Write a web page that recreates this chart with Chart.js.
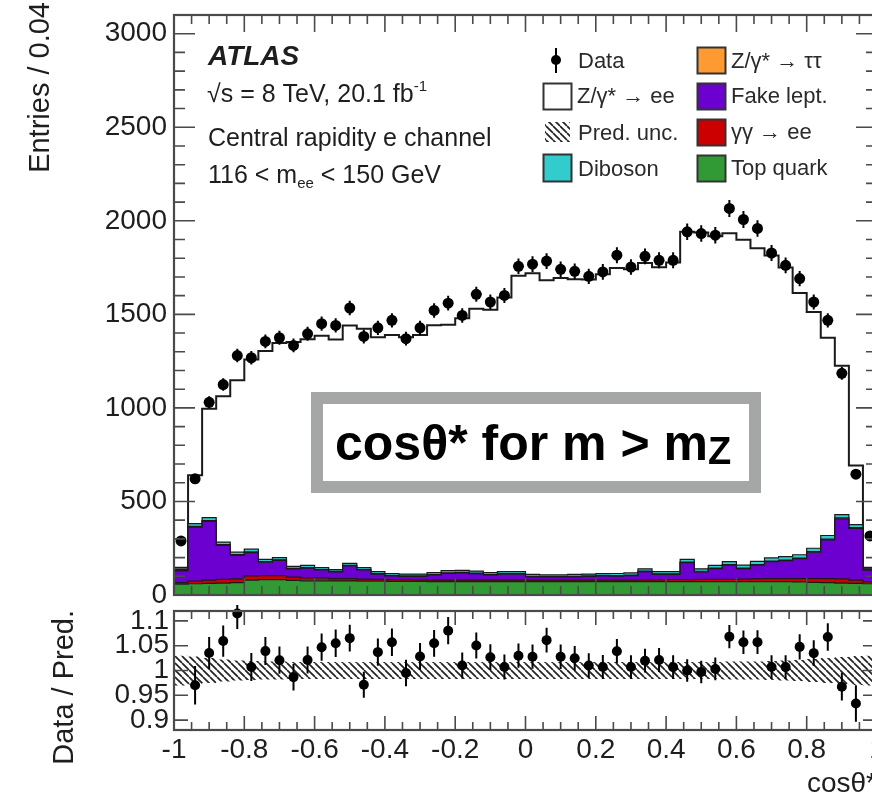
<!DOCTYPE html>
<html>
<head>
<meta charset="utf-8">
<title>cos theta* distribution, central e channel</title>
<script src="https://cdn.jsdelivr.net/npm/chart.js@4.4.1/dist/chart.umd.min.js"></script>
<style>
  html, body { margin: 0; padding: 0; background: #fff; overflow: hidden; }
  #wrap { position: relative; width: 872px; height: 797px; overflow: hidden; }
  canvas { position: absolute; left: 0; }
  #mainCanvas { top: 0; }
  #ratioCanvas { top: 600px; }
</style>
</head>
<body>
<div id="wrap">
  <canvas id="mainCanvas" width="880" height="612"></canvas>
  <canvas id="ratioCanvas" width="880" height="197"></canvas>
</div>
<script>
const FONT = "'Liberation Sans', Arial, Helvetica, sans-serif";
const INK = '#1e1e1e';
const FRAME = '#4a4a4a';

// 50 bins of 0.04 in cos(theta*)
const binLow = -1;
const binWidth = 0.04;
const nBins = 50;

const dataCounts = [
  289, 621, 1030, 1125, 1280, 1268, 1355, 1375, 1334, 1396,
  1450, 1441, 1534, 1382, 1428, 1468, 1370, 1428, 1521, 1560,
  1494, 1607, 1566, 1601, 1757, 1768, 1785, 1741, 1730, 1703,
  1727, 1816, 1753, 1810, 1789, 1789, 1941, 1932, 1923, 2066,
  2007, 1959, 1828, 1762, 1691, 1566, 1468, 1185, 646, 316
];
const zeeCounts = [
  10, 259, 581, 779, 919, 1014, 1114, 1147, 1199, 1209,
  1238, 1230, 1271, 1276, 1252, 1274, 1265, 1277, 1322, 1314,
  1347, 1402, 1405, 1465, 1581, 1610, 1574, 1586, 1578, 1574,
  1600, 1633, 1623, 1635, 1627, 1652, 1751, 1798, 1759, 1756,
  1739, 1673, 1617, 1545, 1399, 1263, 1057, 795, 316, 5
];
const dibosonCounts = [
  6, 14, 16, 14, 13, 14, 12, 12, 11, 11,
  10, 10, 11, 10, 10, 10, 10, 10, 11, 11,
  11, 11, 11, 11, 11, 10, 10, 10, 10, 10,
  10, 11, 11, 12, 12, 12, 14, 13, 14, 15,
  16, 17, 17, 18, 18, 18, 19, 18, 16, 6
];
const ztautauCounts = [
  1, 4, 5, 4, 4, 4, 3, 3, 3, 3,
  3, 3, 3, 3, 3, 3, 3, 3, 3, 3,
  3, 3, 3, 3, 3, 3, 3, 3, 3, 3,
  3, 3, 3, 3, 3, 3, 3, 3, 3, 3,
  3, 3, 3, 3, 3, 3, 4, 5, 4, 1
];
const fakeCounts = [
  63, 289, 313, 181, 126, 125, 71, 81, 43, 52,
  44, 36, 68, 49, 28, 20, 17, 18, 26, 36,
  38, 34, 26, 31, 31, 17, 15, 15, 17, 19,
  22, 21, 24, 44, 29, 28, 91, 41, 57, 76,
  56, 74, 91, 96, 106, 141, 207, 321, 276, 63
];
const photonCounts = [
  8, 14, 18, 20, 20, 22, 22, 22, 18, 16,
  14, 12, 12, 11, 10, 9, 9, 8, 8, 8,
  8, 8, 8, 8, 8, 8, 8, 8, 8, 8,
  8, 8, 8, 9, 9, 10, 10, 11, 12, 12,
  13, 14, 15, 16, 18, 20, 22, 22, 18, 10
];
const topCounts = [
  58, 60, 62, 64, 66, 80, 82, 82, 78, 76,
  76, 75, 75, 74, 74, 73, 73, 73, 72, 72,
  72, 72, 72, 72, 72, 72, 72, 72, 72, 72,
  72, 72, 72, 72, 72, 72, 72, 72, 72, 72,
  72, 72, 72, 72, 70, 68, 66, 64, 62, 60
];
// relative systematic uncertainty on the prediction
const predUncRel = [
  0.030, 0.028, 0.025, 0.022, 0.020, 0.019, 0.018, 0.018, 0.017, 0.017,
  0.017, 0.017, 0.017, 0.017, 0.017, 0.017, 0.017, 0.017, 0.017, 0.017,
  0.017, 0.017, 0.017, 0.017, 0.017, 0.017, 0.017, 0.017, 0.017, 0.017,
  0.017, 0.017, 0.017, 0.017, 0.017, 0.017, 0.017, 0.017, 0.017, 0.018,
  0.018, 0.018, 0.019, 0.020, 0.021, 0.023, 0.025, 0.027, 0.029, 0.030
];

const xTickValues = [-1, -0.8, -0.6, -0.4, -0.2, 0, 0.2, 0.4, 0.6, 0.8, 1];
const xTickLabels = ['-1', '-0.8', '-0.6', '-0.4', '-0.2', '0', '0.2', '0.4', '0.6', '0.8', '1'];
const yTickValues = [0, 500, 1000, 1500, 2000, 2500, 3000];
const yTickLabels = ['0', '500', '1000', '1500', '2000', '2500', '3000'];
const ratioTickValues = [0.9, 0.95, 1, 1.05, 1.1];
const ratioTickLabels = ['0.9', '0.95', '1', '1.05', '1.1'];

const edges = Array.from({ length: nBins + 1 }, (_, i) => binLow + i * binWidth);
const centers = edges.slice(0, nBins).map(e => e + binWidth / 2);

// histogram as a step line: value i holds from edge i to edge i+1
function stepPoints(values) {
  const pts = values.map((v, i) => ({ x: edges[i], y: v }));
  pts.push({ x: edges[nBins], y: values[nBins - 1] });
  return pts;
}

function labelFor(values, labels, v) {
  const i = values.findIndex(t => Math.abs(t - v) < 1e-9);
  return i < 0 ? '' : labels[i];
}

// stack from the bottom up
const layers = [
  { name: 'Top quark', counts: topCounts, color: '#329a35' },
  { name: 'γγ → ee', counts: photonCounts, color: '#cc0000' },
  { name: 'Fake lept.', counts: fakeCounts, color: '#6b00d0' },
  { name: 'Z/γ* → ττ', counts: ztautauCounts, color: '#ff9a33' },
  { name: 'Diboson', counts: dibosonCounts, color: '#33cccc' },
  { name: 'Z/γ* → ee', counts: zeeCounts, color: '#ffffff' }
];
const cumulative = [];
layers.forEach((l, k) => {
  cumulative.push(l.counts.map((c, i) => c + (k ? cumulative[k - 1][i] : 0)));
});
const predTotal = cumulative[layers.length - 1];
const ratioVals = dataCounts.map((d, i) => d / predTotal[i]);

function makeHatch(ctx) {
  const c = document.createElement('canvas');
  c.width = 7; c.height = 7;
  const g = c.getContext('2d');
  g.strokeStyle = '#222';
  g.lineWidth = 1.7;
  for (const k of [-7, 0, 7]) {
    g.beginPath(); g.moveTo(k, 0); g.lineTo(k + 7, 7); g.stroke();
  }
  return ctx.createPattern(c, 'repeat');
}

// ROOT-like frame with ticks pointing inwards on all four sides
function drawFrame(chart, cfg) {
  const { ctx, chartArea: a, scales: { x, y } } = chart;
  ctx.save();
  ctx.strokeStyle = FRAME;
  ctx.lineWidth = 1.6;
  ctx.beginPath();
  for (let k = 0; k <= 40; k++) {
    const px = x.getPixelForValue(-1 + k * 0.05);
    const len = k % 4 === 0 ? cfg.xMajor : cfg.xMinor;
    ctx.moveTo(px, a.bottom); ctx.lineTo(px, a.bottom - len);
    ctx.moveTo(px, a.top); ctx.lineTo(px, a.top + len);
  }
  cfg.yTicks.forEach(t => {
    const py = y.getPixelForValue(t.v);
    ctx.moveTo(a.left, py); ctx.lineTo(a.left + t.len, py);
    ctx.moveTo(a.right, py); ctx.lineTo(a.right - t.len, py);
  });
  ctx.stroke();
  ctx.lineWidth = 2.2;
  ctx.strokeRect(a.left, a.top, a.right - a.left, a.bottom - a.top);
  ctx.restore();
}

function drawErrorBars(chart, vals, errs) {
  const { ctx, chartArea: a, scales: { x, y } } = chart;
  ctx.save();
  ctx.beginPath();
  ctx.rect(a.left, a.top - 6, a.right - a.left, a.bottom - a.top + 6);
  ctx.clip();
  ctx.strokeStyle = '#000';
  ctx.lineWidth = 2;
  ctx.beginPath();
  vals.forEach((v, i) => {
    const px = x.getPixelForValue(centers[i]);
    ctx.moveTo(px, y.getPixelForValue(v - errs[i]));
    ctx.lineTo(px, y.getPixelForValue(v + errs[i]));
  });
  ctx.stroke();
  ctx.restore();
}

function textRuns(ctx, x, y, parts) {
  for (const p of parts) {
    ctx.font = `${p.font || ''} ${p.size}px ${FONT}`;
    ctx.fillText(p.t, x, y + (p.dy || 0));
    x += ctx.measureText(p.t).width;
  }
}

function verticalTitle(ctx, text, x, yTop, size) {
  ctx.save();
  ctx.translate(x, yTop);
  ctx.rotate(-Math.PI / 2);
  ctx.font = `${size}px ${FONT}`;
  ctx.fillStyle = INK;
  ctx.textAlign = 'right';
  ctx.textBaseline = 'middle';
  ctx.fillText(text, 0, 0);
  ctx.restore();
}

function legendBox(ctx, x, y, w, h, fill) {
  ctx.fillStyle = fill;
  ctx.fillRect(x, y, w, h);
  ctx.strokeStyle = '#333';
  ctx.lineWidth = 2;
  ctx.strokeRect(x, y, w, h);
}

Chart.defaults.font.family = FONT;
Chart.defaults.color = INK;

const mainCtx = document.getElementById('mainCanvas').getContext('2d');
const ratioCtx = document.getElementById('ratioCanvas').getContext('2d');
const hatch = makeHatch(ratioCtx);
const legendHatch = makeHatch(mainCtx);

const mainPlugin = {
  id: 'mainDecor',
  afterDatasetsDraw(chart) {
    drawErrorBars(chart, dataCounts, dataCounts.map(d => Math.sqrt(d)));
    const yTicks = [];
    for (let k = 0; k <= 31; k++) yTicks.push({ v: k * 100, len: k % 5 === 0 ? 21 : 11 });
    drawFrame(chart, { xMajor: 17, xMinor: 9, yTicks });
  },
  afterDraw(chart) {
    const ctx = chart.ctx;
    ctx.save();
    ctx.fillStyle = INK;
    ctx.textAlign = 'left';
    ctx.textBaseline = 'alphabetic';
    textRuns(ctx, 208, 65, [{ t: 'ATLAS', size: 28, font: 'italic bold' }]);
    textRuns(ctx, 207, 102, [{ t: '√s = 8 TeV, 20.1 fb', size: 25 }, { t: '-1', size: 15, dy: -11 }]);
    textRuns(ctx, 208, 146, [{ t: 'Central rapidity e channel', size: 25 }]);
    textRuns(ctx, 208, 183, [{ t: '116 < m', size: 25 }, { t: 'ee', size: 15, dy: 5 }, { t: ' < 150 GeV', size: 25 }]);

    // legend, left column
    ctx.fillStyle = '#000';
    ctx.beginPath(); ctx.arc(556, 60, 5, 0, Math.PI * 2); ctx.fill();
    ctx.lineWidth = 2; ctx.strokeStyle = '#000';
    ctx.beginPath(); ctx.moveTo(556, 48); ctx.lineTo(556, 73); ctx.stroke();
    legendBox(ctx, 543.5, 83.5, 28, 26, '#ffffff');
    ctx.fillStyle = legendHatch; ctx.fillRect(545, 122, 25, 20);
    legendBox(ctx, 543.5, 154.5, 28, 27, layers[4].color);
    // legend, right column
    legendBox(ctx, 697.5, 47.5, 28, 26, layers[3].color);
    legendBox(ctx, 697.5, 83.5, 28, 26, layers[2].color);
    legendBox(ctx, 697.5, 119.5, 28, 26, layers[1].color);
    legendBox(ctx, 697.5, 155.5, 28, 26, layers[0].color);
    ctx.fillStyle = '#2a2a2a';
    ctx.font = `22px ${FONT}`;
    ctx.fillText('Data', 578, 68);
    ctx.fillText('Z/γ* → ee', 577, 103);
    ctx.fillText('Pred. unc.', 578, 140);
    ctx.fillText('Diboson', 578, 176);
    ctx.fillText('Z/γ* → ττ', 731, 68);
    ctx.fillText('Fake lept.', 731, 103);
    ctx.fillText('γγ → ee', 731, 139);
    ctx.fillText('Top quark', 731, 175);

    // boxed caption
    ctx.fillStyle = '#ffffff';
    ctx.fillRect(317, 398, 438, 89);
    ctx.strokeStyle = '#a4a7a5';
    ctx.lineWidth = 12;
    ctx.strokeRect(317, 398, 438, 89);
    ctx.fillStyle = '#000';
    textRuns(ctx, 335, 460, [{ t: 'cosθ* for m > m', size: 50, font: 'bold' }, { t: 'Z', size: 38, font: 'bold', dy: 4 }]);

    verticalTitle(ctx, 'Entries / 0.04', 41, 2, 29);
    ctx.restore();
  }
};

const ratioPlugin = {
  id: 'ratioDecor',
  afterDatasetsDraw(chart) {
    drawErrorBars(chart, ratioVals, ratioVals.map((r, i) => r / Math.sqrt(dataCounts[i])));
    drawFrame(chart, { xMajor: 14, xMinor: 8, yTicks: ratioTickValues.map(v => ({ v, len: 14 })) });
  },
  afterDraw(chart) {
    const ctx = chart.ctx;
    ctx.save();
    verticalTitle(ctx, 'Data / Pred.', 65, 10, 29);
    ctx.fillStyle = INK;
    ctx.font = `28px ${FONT}`;
    ctx.textAlign = 'right';
    ctx.fillText('cosθ*', chart.chartArea.right, 192);
    ctx.restore();
  }
};

const mainDatasets = [{
  label: 'Data',
  data: centers.map((x, i) => ({ x, y: dataCounts[i] })),
  showLine: false,
  pointRadius: 5.5,
  pointBorderWidth: 0,
  pointBackgroundColor: '#000'
}];
layers.forEach((l, k) => {
  mainDatasets.push({
    label: l.name,
    data: stepPoints(cumulative[k]),
    stepped: true,
    fill: k === 0 ? 'origin' : '-1',
    backgroundColor: l.color,
    borderColor: '#1a1a1a',
    borderWidth: k === layers.length - 1 ? 2 : 1.2,
    pointRadius: 0
  });
});

new Chart(mainCtx, {
  type: 'line',
  data: { datasets: mainDatasets },
  options: {
    responsive: false,
    animation: false,
    devicePixelRatio: 1,
    events: [],
    layout: { autoPadding: false, padding: { top: 15, right: 3, bottom: 17, left: 0 } },
    plugins: { legend: { display: false }, tooltip: { enabled: false } },
    scales: {
      x: { type: 'linear', min: -1, max: 1, display: false },
      y: {
        type: 'linear', min: 0, max: 3100,
        grid: { display: false, drawTicks: false },
        border: { display: false },
        afterBuildTicks: s => { s.ticks = yTickValues.map(v => ({ value: v })); },
        afterFit: s => { s.width = 174; s.paddingTop = 0; s.paddingBottom = 0; },
        ticks: { padding: 7, autoSkip: false, font: { size: 28 }, color: INK, callback: v => labelFor(yTickValues, yTickLabels, v) }
      }
    }
  },
  plugins: [mainPlugin]
});

const bandLo = predUncRel.map(u => 1 - u);
const bandHi = predUncRel.map(u => 1 + u);

new Chart(ratioCtx, {
  type: 'line',
  data: {
    datasets: [{
      label: 'Data / Pred.',
      data: centers.map((x, i) => ({ x, y: ratioVals[i] })),
      showLine: false,
      pointRadius: 5,
      pointBorderWidth: 0,
      pointBackgroundColor: '#000',
      clip: { left: 0, top: 6, right: 0, bottom: 0 }
    }, {
      label: 'unc. low',
      data: stepPoints(bandLo),
      stepped: true,
      borderColor: 'rgba(0,0,0,0)',
      pointRadius: 0,
      fill: false
    }, {
      label: 'Pred. unc.',
      data: stepPoints(bandHi),
      stepped: true,
      borderColor: 'rgba(0,0,0,0)',
      pointRadius: 0,
      fill: '-1',
      backgroundColor: hatch
    }]
  },
  options: {
    responsive: false,
    animation: false,
    devicePixelRatio: 1,
    events: [],
    layout: { autoPadding: false, padding: { top: 11, right: 3, bottom: 0, left: 0 } },
    plugins: { legend: { display: false }, tooltip: { enabled: false } },
    scales: {
      x: {
        type: 'linear', min: -1, max: 1,
        grid: { display: false, drawTicks: false },
        border: { display: false },
        afterBuildTicks: s => { s.ticks = xTickValues.map(v => ({ value: v })); },
        afterFit: s => { s.height = 67; s.paddingLeft = 0; s.paddingRight = 0; },
        ticks: { padding: 3, maxRotation: 0, autoSkip: false, font: { size: 28 }, color: INK, callback: v => labelFor(xTickValues, xTickLabels, v) }
      },
      y: {
        type: 'linear', min: 0.88, max: 1.12,
        grid: { display: false, drawTicks: false },
        border: { display: false },
        afterBuildTicks: s => { s.ticks = ratioTickValues.map(v => ({ value: v })); },
        afterFit: s => { s.width = 174; s.paddingTop = 0; s.paddingBottom = 0; },
        ticks: { padding: 5, autoSkip: false, font: { size: 28 }, color: INK, callback: v => labelFor(ratioTickValues, ratioTickLabels, v) }
      }
    }
  },
  plugins: [ratioPlugin]
});
</script>
</body>
</html>
